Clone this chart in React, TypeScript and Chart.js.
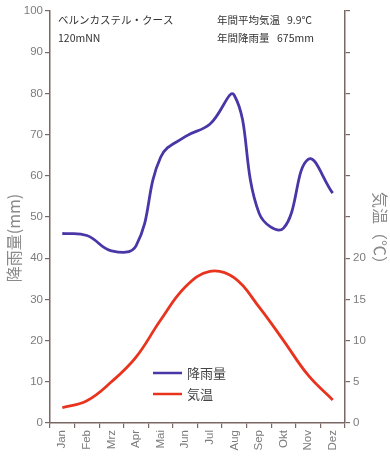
import React, { useEffect, useRef } from 'react';
import { Chart, registerables } from 'chart.js';

Chart.register(...registerables);

const months = ['Jan', 'Feb', 'Mrz', 'Apr', 'Mai', 'Jun', 'Jul', 'Aug', 'Sep', 'Okt', 'Nov', 'Dez'];
const precipitation = [46, 45.5, 41.8, 43, 64.5, 69.5, 72.5, 79.5, 51, 47.3, 64, 55.8];
const temperature = [1.85, 2.7, 5, 8, 12.5, 16.5, 18.4, 17.6, 14.1, 10, 5.8, 2.8];
const tempLabelTicks = [0, 5, 10, 15, 20];

const stationName = 'ベルンカステル・クース';
const stationHeight = '120mNN';
const annualTempText = ['年間平均気温', '9.9℃'];
const annualPrecipText = ['年間降雨量', '675mm'];
const precipTitle = '降雨量(mm)';
const tempTitle = '気温（℃）';
const precipLabel = '降雨量';
const tempLabel = '気温';

const PRECIP_COLOR = '#4a36a6';
const TEMP_COLOR = '#e8341f';
const AXIS_COLOR = '#7a6864';
const TICK_COLOR = '#7c7c7c';
const NUM_FONT = '"Liberation Sans", Arial, sans-serif';
const JP_FONT = '"Noto Sans CJK JP", sans-serif';

const overlayPlugin = {
  id: 'overlayText',
  afterDraw(chart: any) {
    const ctx = chart.ctx as CanvasRenderingContext2D;
    ctx.save();
    ctx.textBaseline = 'middle';
    ctx.textAlign = 'left';
    ctx.fillStyle = '#333';
    ctx.font = `10.5px ${JP_FONT}`;
    ctx.fillText(stationName, 58, 20);
    ctx.fillText(stationHeight, 58, 38);
    ctx.fillText(annualTempText[0], 217, 20);
    ctx.fillText(annualTempText[1], 287, 20);
    ctx.fillText(annualPrecipText[0], 217, 38);
    ctx.fillText(annualPrecipText[1], 277, 38);

    // axis titles
    ctx.fillStyle = '#8a8a8a';
    ctx.font = `16px ${JP_FONT}`;
    ctx.textAlign = 'center';
    ctx.save();
    ctx.translate(14, 238);
    ctx.rotate(-Math.PI / 2);
    ctx.fillText(precipTitle, 0, 0);
    ctx.restore();
    ctx.save();
    ctx.translate(380, 232);
    ctx.rotate(Math.PI / 2);
    ctx.fillText(tempTitle, 0, 0);
    ctx.restore();

    // legend
    const items = [
      { label: precipLabel, color: chart.data.datasets[0].borderColor, y: 373 },
      { label: tempLabel, color: chart.data.datasets[1].borderColor, y: 394 },
    ];
    ctx.textAlign = 'left';
    ctx.font = `13px ${JP_FONT}`;
    for (const it of items) {
      ctx.strokeStyle = it.color;
      ctx.lineWidth = 2.5;
      ctx.beginPath();
      ctx.moveTo(153, it.y);
      ctx.lineTo(182, it.y);
      ctx.stroke();
      ctx.fillStyle = '#444';
      ctx.fillText(it.label, 187, it.y);
    }
    ctx.restore();
  },
};

export default function App() {
  const canvasRef = useRef<HTMLCanvasElement | null>(null);

  useEffect(() => {
    if (!canvasRef.current) return;
    const chart = new Chart(canvasRef.current, {
      type: 'line',
      data: {
        labels: months,
        datasets: [
          {
            label: precipLabel,
            data: precipitation,
            borderColor: PRECIP_COLOR,
            borderWidth: 2.8,
            pointRadius: 0,
            tension: 0.42,
            yAxisID: 'y',
            fill: false,
          },
          {
            label: tempLabel,
            data: temperature,
            borderColor: TEMP_COLOR,
            borderWidth: 2.8,
            pointRadius: 0,
            tension: 0.4,
            yAxisID: 'y1',
            fill: false,
          },
        ],
      },
      options: {
        animation: false,
        responsive: false,
        maintainAspectRatio: false,
        layout: { padding: { top: 11, left: 0, right: 0, bottom: 0 } },
        plugins: { legend: { display: false }, tooltip: { enabled: false } },
        scales: {
          x: {
            offset: true,
            grid: { offset: true, drawOnChartArea: false, color: AXIS_COLOR, tickLength: 5, lineWidth: 1.2 },
            border: { color: AXIS_COLOR, width: 1.5 },
            ticks: {
              color: TICK_COLOR,
              font: { size: 11.5, family: NUM_FONT },
              maxRotation: 90,
              minRotation: 90,
              padding: 2,
              autoSkip: false,
            },
            afterFit(scale: any) { scale.height = 37; },
          },
          y: {
            position: 'left',
            min: 0,
            max: 100,
            grid: { drawOnChartArea: false, color: AXIS_COLOR, tickLength: 5, lineWidth: 1.2 },
            border: { color: AXIS_COLOR, width: 1.5 },
            ticks: { stepSize: 10, color: TICK_COLOR, font: { size: 11.5, family: NUM_FONT }, padding: 2 },
            afterFit(scale: any) { scale.width = 50; },
          },
          y1: {
            position: 'right',
            min: 0,
            max: 50,
            grid: { drawOnChartArea: false, color: AXIS_COLOR, tickLength: 5, lineWidth: 1.2 },
            border: { color: AXIS_COLOR, width: 1.5 },
            ticks: {
              stepSize: 5,
              color: TICK_COLOR,
              font: { size: 11.5, family: NUM_FONT },
              padding: 3,
              callback: (v: any) => (tempLabelTicks.includes(Number(v)) ? String(v) : ''),
            },
            afterFit(scale: any) { scale.width = 45; },
          },
        },
      },
      plugins: [overlayPlugin],
    });
    return () => chart.destroy();
  }, []);

  return (
    <div style={{ position: 'fixed', left: 0, top: 0, width: 390, height: 460, background: '#fff' }}>
      <canvas ref={canvasRef} width={390} height={460} style={{ width: 390, height: 460, display: 'block' }} />
    </div>
  );
}
